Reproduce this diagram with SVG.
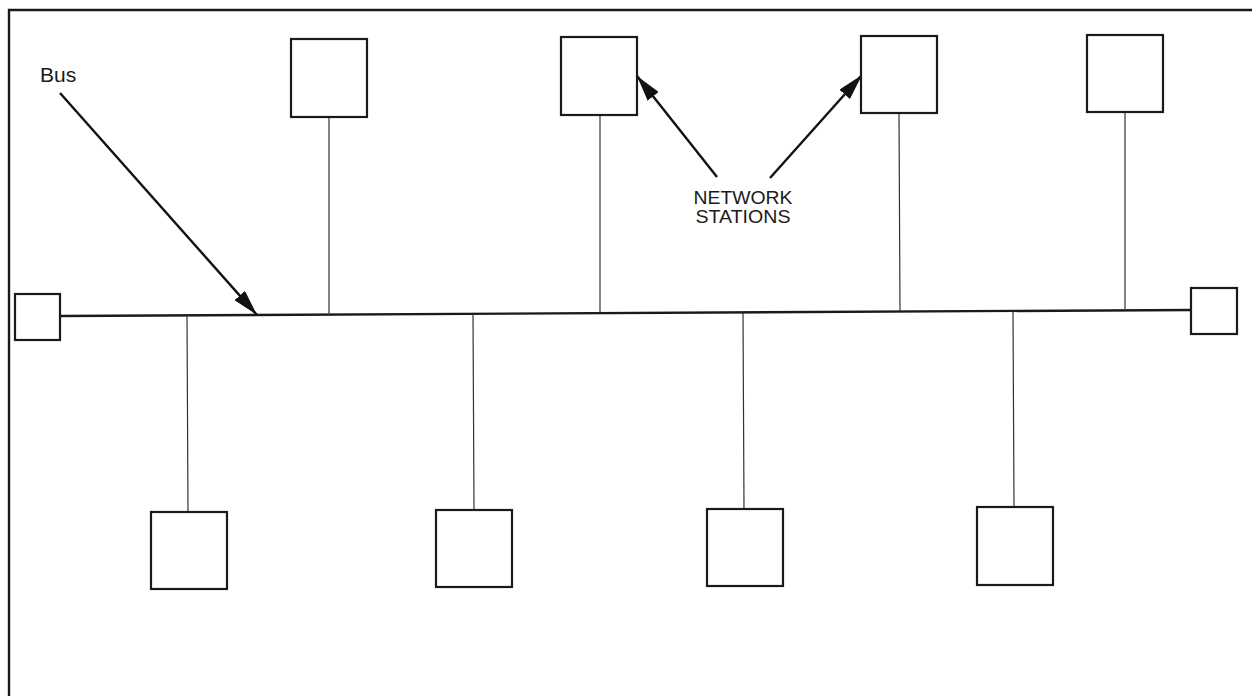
<svg xmlns="http://www.w3.org/2000/svg" width="1252" height="696" viewBox="0 0 1252 696">
<style>
.box{fill:#fff;stroke:#1a1a1a;stroke-width:2.2}
.stem{stroke:#333;stroke-width:1.2;fill:none}
.bus{stroke:#1a1a1a;stroke-width:2.4;fill:none}
.ptr{stroke:#111;stroke-width:2.4;fill:none}
.frame{stroke:#1a1a1a;stroke-width:2.4;fill:none}
text{font-family:"Liberation Sans",Arial,sans-serif;fill:#1a1a1a}
</style>
<defs>
<marker id="ah" viewBox="0 0 26 14" refX="26" refY="7" markerWidth="26" markerHeight="14" markerUnits="userSpaceOnUse" orient="auto" preserveAspectRatio="none">
<path d="M0,0 L26,7 L0,14 Z" fill="#111"/>
</marker>
</defs>
<path class="frame" d="M9,696 L9,10 L1252,10"/>
<g id="connectors">
<path class="bus" d="M60,316 L1191,310"/>
<line class="stem" x1="329" y1="117" x2="329" y2="315"/>
<line class="stem" x1="600" y1="115" x2="600" y2="313"/>
<line class="stem" x1="899" y1="113" x2="900" y2="311"/>
<line class="stem" x1="1125" y1="112" x2="1125" y2="310"/>
<line class="stem" x1="187" y1="315" x2="188" y2="512"/>
<line class="stem" x1="473" y1="314" x2="474" y2="510"/>
<line class="stem" x1="743" y1="313" x2="744" y2="509"/>
<line class="stem" x1="1013" y1="311" x2="1014" y2="507"/>
<line class="ptr" x1="60" y1="93" x2="257" y2="315" marker-end="url(#ah)"/>
<line class="ptr" x1="717" y1="177" x2="637" y2="76" marker-end="url(#ah)"/>
<line class="ptr" x1="770" y1="178" x2="862" y2="75" marker-end="url(#ah)"/>
</g>
<g id="term-left"><rect class="box" x="15" y="294" width="45" height="46"/></g>
<g id="term-right"><rect class="box" x="1191" y="288" width="46" height="46"/></g>
<g id="top1"><rect class="box" x="291" y="39" width="76" height="78"/></g>
<g id="top2"><rect class="box" x="561" y="37" width="76" height="78"/></g>
<g id="top3"><rect class="box" x="861" y="36" width="76" height="77"/></g>
<g id="top4"><rect class="box" x="1087" y="35" width="76" height="77"/></g>
<g id="bot1"><rect class="box" x="151" y="512" width="76" height="77"/></g>
<g id="bot2"><rect class="box" x="436" y="510" width="76" height="77"/></g>
<g id="bot3"><rect class="box" x="707" y="509" width="76" height="77"/></g>
<g id="bot4"><rect class="box" x="977" y="507" width="76" height="78"/></g>
<g id="label-bus"><text x="40" y="82" font-size="21">Bus</text></g>
<g id="label-stations">
<text x="743" y="204" font-size="19" text-anchor="middle" textLength="99" lengthAdjust="spacingAndGlyphs">NETWORK</text>
<text x="743" y="223" font-size="19" text-anchor="middle" textLength="95" lengthAdjust="spacingAndGlyphs">STATIONS</text>
</g>
</svg>
